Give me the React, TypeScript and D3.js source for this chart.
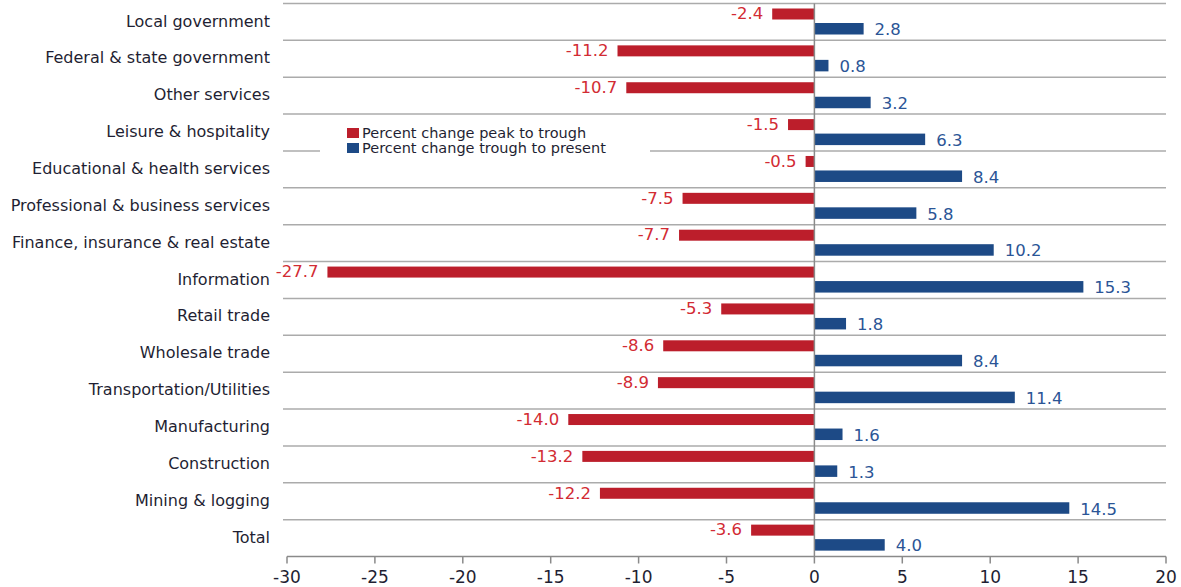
import React, { useEffect, useRef } from 'react';
import * as d3 from 'd3';

const categories = [
  'Local government',
  'Federal & state government',
  'Other services',
  'Leisure & hospitality',
  'Educational & health services',
  'Professional & business services',
  'Finance, insurance & real estate',
  'Information',
  'Retail trade',
  'Wholesale trade',
  'Transportation/Utilities',
  'Manufacturing',
  'Construction',
  'Mining & logging',
  'Total',
];

const peakToTrough = [-2.4, -11.2, -10.7, -1.5, -0.5, -7.5, -7.7, -27.7, -5.3, -8.6, -8.9, -14.0, -13.2, -12.2, -3.6];
const troughToPresent = [2.8, 0.8, 3.2, 6.3, 8.4, 5.8, 10.2, 15.3, 1.8, 8.4, 11.4, 1.6, 1.3, 14.5, 4.0];

const xTicks = [-30, -25, -20, -15, -10, -5, 0, 5, 10, 15, 20];
const legendLabels = ['Percent change peak to trough', 'Percent change trough to present'];

const RED = '#BC1E2B';
const BLUE = '#1D4A86';
const RED_TEXT = '#D22B33';
const BLUE_TEXT = '#2B5596';
const FONT = '"DejaVu Sans", Verdana, sans-serif';

export default function App() {
  const svgRef = useRef<SVGSVGElement>(null);

  useEffect(() => {
    if (!svgRef.current) return;
    const svg = d3.select(svgRef.current);
    svg.selectAll('*').remove();

    const width = 1181;
    const height = 587;
    const top = 3.5;
    const bottom = 556.5;

    const x = d3.scaleLinear().domain([-30, 20]).range([287, 1166]);
    const y = d3.scaleBand().domain(categories).range([top, bottom]);
    const bw = y.bandwidth();

    svg.attr('width', width).attr('height', height);

    // horizontal grid lines between rows
    svg.append('g')
      .selectAll('line')
      .data(categories)
      .enter()
      .append('line')
      .attr('x1', 283)
      .attr('x2', 1166)
      .attr('y1', d => (y(d) as number))
      .attr('y2', d => (y(d) as number))
      .attr('stroke', '#ababab')
      .attr('stroke-width', 1.5);

    // legend background (hides gridline)
    svg.append('rect')
      .attr('x', 320)
      .attr('y', 121)
      .attr('width', 330)
      .attr('height', 40)
      .attr('fill', '#fff');

    const rows = svg.append('g');

    // peak to trough bars (upper half)
    rows.selectAll('rect.red')
      .data(peakToTrough)
      .enter()
      .append('rect')
      .attr('class', 'red')
      .attr('x', d => x(d))
      .attr('y', (d, i) => (y(categories[i]) as number) + 5)
      .attr('width', d => x(0) - x(d))
      .attr('height', 11)
      .attr('fill', RED);

    // trough to present bars (lower half)
    rows.selectAll('rect.blue')
      .data(troughToPresent)
      .enter()
      .append('rect')
      .attr('class', 'blue')
      .attr('x', x(0))
      .attr('y', (d, i) => (y(categories[i]) as number) + 19.5)
      .attr('width', d => x(d) - x(0))
      .attr('height', 11.5)
      .attr('fill', BLUE);

    rows.selectAll('text.red')
      .data(peakToTrough)
      .enter()
      .append('text')
      .attr('x', d => x(d) - 9)
      .attr('y', (d, i) => (y(categories[i]) as number) + 10)
      .attr('dy', '0.35em')
      .attr('text-anchor', 'end')
      .attr('font-family', FONT)
      .attr('font-size', 16.5)
      .attr('fill', RED_TEXT)
      .text(d => d.toFixed(1));

    rows.selectAll('text.blue')
      .data(troughToPresent)
      .enter()
      .append('text')
      .attr('x', d => x(d) + 11)
      .attr('y', (d, i) => (y(categories[i]) as number) + 26)
      .attr('dy', '0.35em')
      .attr('text-anchor', 'start')
      .attr('font-family', FONT)
      .attr('font-size', 16.5)
      .attr('fill', BLUE_TEXT)
      .text(d => d.toFixed(1));

    // category labels
    svg.append('g')
      .selectAll('text')
      .data(categories)
      .enter()
      .append('text')
      .attr('x', 270)
      .attr('y', d => (y(d) as number) + bw / 2 - 1)
      .attr('dy', '0.35em')
      .attr('text-anchor', 'end')
      .attr('font-family', FONT)
      .attr('font-size', 16)
      .attr('fill', '#1f1f33')
      .text(d => d);

    // zero line
    svg.append('line')
      .attr('x1', x(0))
      .attr('x2', x(0))
      .attr('y1', top)
      .attr('y2', bottom)
      .attr('stroke', '#8a8a8a')
      .attr('stroke-width', 1.5);

    // x axis
    const axis = svg.append('g').attr('transform', `translate(0,${bottom})`);
    axis.append('line')
      .attr('x1', x(-30))
      .attr('x2', x(20))
      .attr('stroke', '#8a8a8a')
      .attr('stroke-width', 1.5);
    const ticks = axis.selectAll('g.tick')
      .data(xTicks)
      .enter()
      .append('g')
      .attr('transform', d => `translate(${x(d)},0)`);
    ticks.append('line')
      .attr('y2', 7)
      .attr('stroke', '#8a8a8a')
      .attr('stroke-width', 1.5);
    ticks.append('text')
      .attr('y', 21)
      .attr('dy', '0.35em')
      .attr('text-anchor', 'middle')
      .attr('font-family', FONT)
      .attr('font-size', 17)
      .attr('fill', '#1f1f33')
      .text(d => String(d));

    // legend
    const legend = svg.append('g');
    legendLabels.forEach((label, i) => {
      legend.append('rect')
        .attr('x', 347)
        .attr('y', 128 + i * 15)
        .attr('width', 12)
        .attr('height', 10)
        .attr('fill', i === 0 ? RED : BLUE);
      legend.append('text')
        .attr('x', 362)
        .attr('y', 133 + i * 15)
        .attr('dy', '0.35em')
        .attr('font-family', FONT)
        .attr('font-size', 14.5)
        .attr('fill', '#1f1f33')
        .text(label);
    });
  }, []);

  return (
    <div style={{ position: 'absolute', left: 0, top: 0 }}>
      <svg ref={svgRef} style={{ display: 'block' }}></svg>
    </div>
  );
}
